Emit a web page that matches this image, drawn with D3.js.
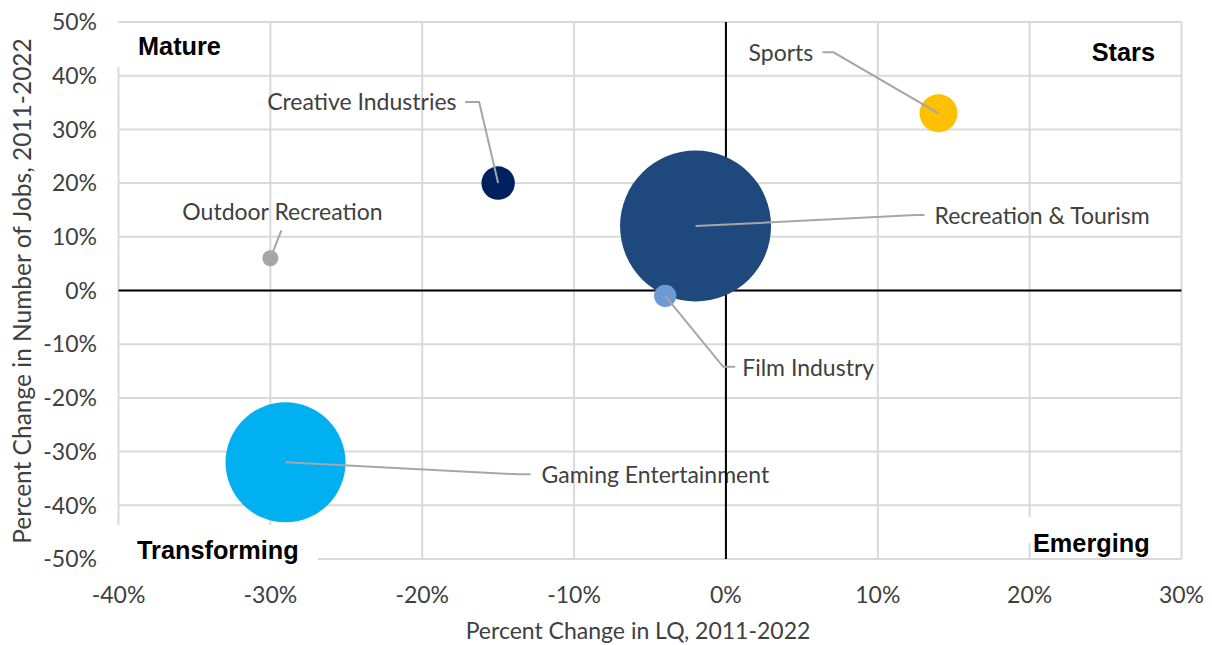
<!DOCTYPE html>
<html>
	<head>
		<meta charset="utf-8">
		<style>
			body {
				margin: 0;
				background: #fff;
			}

			#chart {
				display: block;
			}

			text {
				font-family: Lato, 'Open Sans', sans-serif;
				fill: #404040;
			}

			.quad {
				font-family: 'Liberation Sans', Arial, sans-serif;
				font-weight: bold;
				fill: #000;
			}
		</style>
	</head>
	<body>
		<svg id="chart" width="1212" height="645"></svg>
		<script src="https://cdnjs.cloudflare.com/ajax/libs/d3/7.8.5/d3.min.js"></script>

		<script>
			// bubble data
			let names = [
				'Sports',
				'Creative Industries',
				'Outdoor Recreation',
				'Recreation & Tourism',
				'Film Industry',
				'Gaming Entertainment',
			];
			let lqChange = [0.14, -0.15, -0.3, -0.02, -0.04, -0.29];
			let jobsChange = [0.33, 0.2, 0.06, 0.12, -0.01, -0.32];
			let bubbleSize = [3600, 2800, 640, 57000, 1250, 36000];
			let colors = [
				'#FFC000',
				'#002060',
				'#A6A6A6',
				'#1F497D',
				'#6C9AD5',
				'#00B0F0',
			];

			let xTicks = [-0.4, -0.3, -0.2, -0.1, 0, 0.1, 0.2, 0.3];
			let yTicks = [-0.5, -0.4, -0.3, -0.2, -0.1, 0, 0.1, 0.2, 0.3, 0.4, 0.5];

			let quadrants = ['Mature', 'Stars', 'Transforming', 'Emerging'];

			// where each data label sits, relative to its bubble (px)
			let labelLayout = {
				'Sports': { tx: -190, ty: -61, elbow: [[-116, -61], [-105, -61]] },
				'Creative Industries': { tx: -231, ty: -81, elbow: [[-33, -81], [-19, -81]] },
				'Outdoor Recreation': { tx: -88, ty: -47, elbow: [[11, -28]] },
				'Recreation & Tourism': { tx: 239, ty: -10, elbow: [[229, -11], [220, -11]] },
				'Film Industry': { tx: 77, ty: 72, elbow: [[70, 71], [58, 71]] },
				'Gaming Entertainment': { tx: 256, ty: 12, elbow: [[245, 12], [233, 12]] },
			};

			let plot = { left: 118.5, right: 1181.5, top: 22, bottom: 559 };

			let svg = d3.select('#chart');

			let x = d3.scaleLinear().domain([-0.4, 0.3]).range([plot.left, plot.right]);
			let y = d3.scaleLinear().domain([-0.5, 0.5]).range([plot.bottom, plot.top]);
			let r = d3.scaleSqrt().domain([0, d3.max(bubbleSize)]).range([0, 75.5]);
			// Excel shows a plain hyphen for negatives
			let pct = d => d3.format('.0%')(d).replace('\u2212', '-');

			// gridlines
			let grid = svg.append('g');
			grid.selectAll('line.v')
				.data(xTicks)
				.enter()
				.append('line')
				.attr('x1', d => x(d))
				.attr('x2', d => x(d))
				.attr('y1', plot.top)
				.attr('y2', plot.bottom)
				.attr('stroke', '#D9D9D9')
				.attr('stroke-width', 2);
			grid.selectAll('line.h')
				.data(yTicks)
				.enter()
				.append('line')
				.attr('x1', plot.left)
				.attr('x2', plot.right)
				.attr('y1', d => y(d))
				.attr('y2', d => y(d))
				.attr('stroke', '#D9D9D9')
				.attr('stroke-width', 2);

			// quadrant label boxes hide the grid underneath
			let boxes = [
				[116, 23, 143, 44],
				null,
				[108, 525, 210, 45],
				[1024, 517, 130, 26],
			];
			let quadPos = [
				{ x: 138, y: 55, anchor: 'start' },
				{ x: 1155, y: 61, anchor: 'end' },
				{ x: 137, y: 559, anchor: 'start' },
				{ x: 1033, y: 552, anchor: 'start' },
			];
			quadrants.forEach((q, i) => {
				if (boxes[i]) {
					svg.append('rect')
						.attr('x', boxes[i][0])
						.attr('y', boxes[i][1])
						.attr('width', boxes[i][2])
						.attr('height', boxes[i][3])
						.attr('fill', '#fff');
				}
				svg.append('text')
					.attr('class', 'quad')
					.attr('x', quadPos[i].x)
					.attr('y', quadPos[i].y)
					.attr('text-anchor', quadPos[i].anchor)
					.style('font-size', '25.3px')
					.text(q);
			});

			// axis tick labels
			svg.append('g')
				.selectAll('text')
				.data(xTicks)
				.enter()
				.append('text')
				.attr('x', d => x(d))
				.attr('y', 603)
				.attr('text-anchor', 'middle')
				.style('font-size', '23px')
				.text(d => pct(d));

			svg.append('g')
				.selectAll('text')
				.data(yTicks)
				.enter()
				.append('text')
				.attr('x', 97)
				.attr('y', d => y(d))
				.attr('dy', '0.36em')
				.attr('text-anchor', 'end')
				.style('font-size', '23px')
				.text(d => pct(d));

			// axis titles
			svg.append('text')
				.attr('x', 638)
				.attr('y', 639)
				.attr('text-anchor', 'middle')
				.style('font-size', '23px')
				.text('Percent Change in LQ, 2011-2022');

			svg.append('text')
				.attr('transform', 'translate(31, 291) rotate(-90)')
				.attr('text-anchor', 'middle')
				.style('font-size', '24.5px')
				.text('Percent Change in Number of Jobs, 2011-2022');

			let bubbles = names.map((n, i) => ({
				name: n,
				cx: x(lqChange[i]),
				cy: y(jobsChange[i]),
				r: r(bubbleSize[i]),
				color: colors[i],
			}));

			// data labels (drawn under the axis lines like the original)
			svg.append('g')
				.selectAll('text')
				.data(bubbles)
				.enter()
				.append('text')
				.attr('x', d => d.cx + labelLayout[d.name].tx)
				.attr('y', d => d.cy + labelLayout[d.name].ty)
				.attr('dy', '0.36em')
				.style('font-size', '23px')
				.text(d => d.name);

			// zero axes
			svg.append('line')
				.attr('x1', x(0))
				.attr('x2', x(0))
				.attr('y1', plot.top)
				.attr('y2', plot.bottom)
				.attr('stroke', '#000')
				.attr('stroke-width', 2);
			svg.append('line')
				.attr('x1', plot.left)
				.attr('x2', plot.right)
				.attr('y1', y(0))
				.attr('y2', y(0))
				.attr('stroke', '#000')
				.attr('stroke-width', 2);

			// bubbles, largest first
			svg.append('g')
				.selectAll('circle')
				.data(bubbles.slice().sort((a, b) => b.r - a.r))
				.enter()
				.append('circle')
				.attr('cx', d => d.cx)
				.attr('cy', d => d.cy)
				.attr('r', d => d.r)
				.attr('fill', d => d.color);

			// leader lines
			let line = d3.line();
			svg.append('g')
				.selectAll('path')
				.data(bubbles)
				.enter()
				.append('path')
				.attr('d', d => {
					let pts = labelLayout[d.name].elbow.map(p => [d.cx + p[0], d.cy + p[1]]);
					pts.push([d.cx, d.cy]);
					return line(pts);
				})
				.attr('fill', 'none')
				.attr('stroke', '#A6A6A6')
				.attr('stroke-width', 2);
		</script>
	</body>
</html>
